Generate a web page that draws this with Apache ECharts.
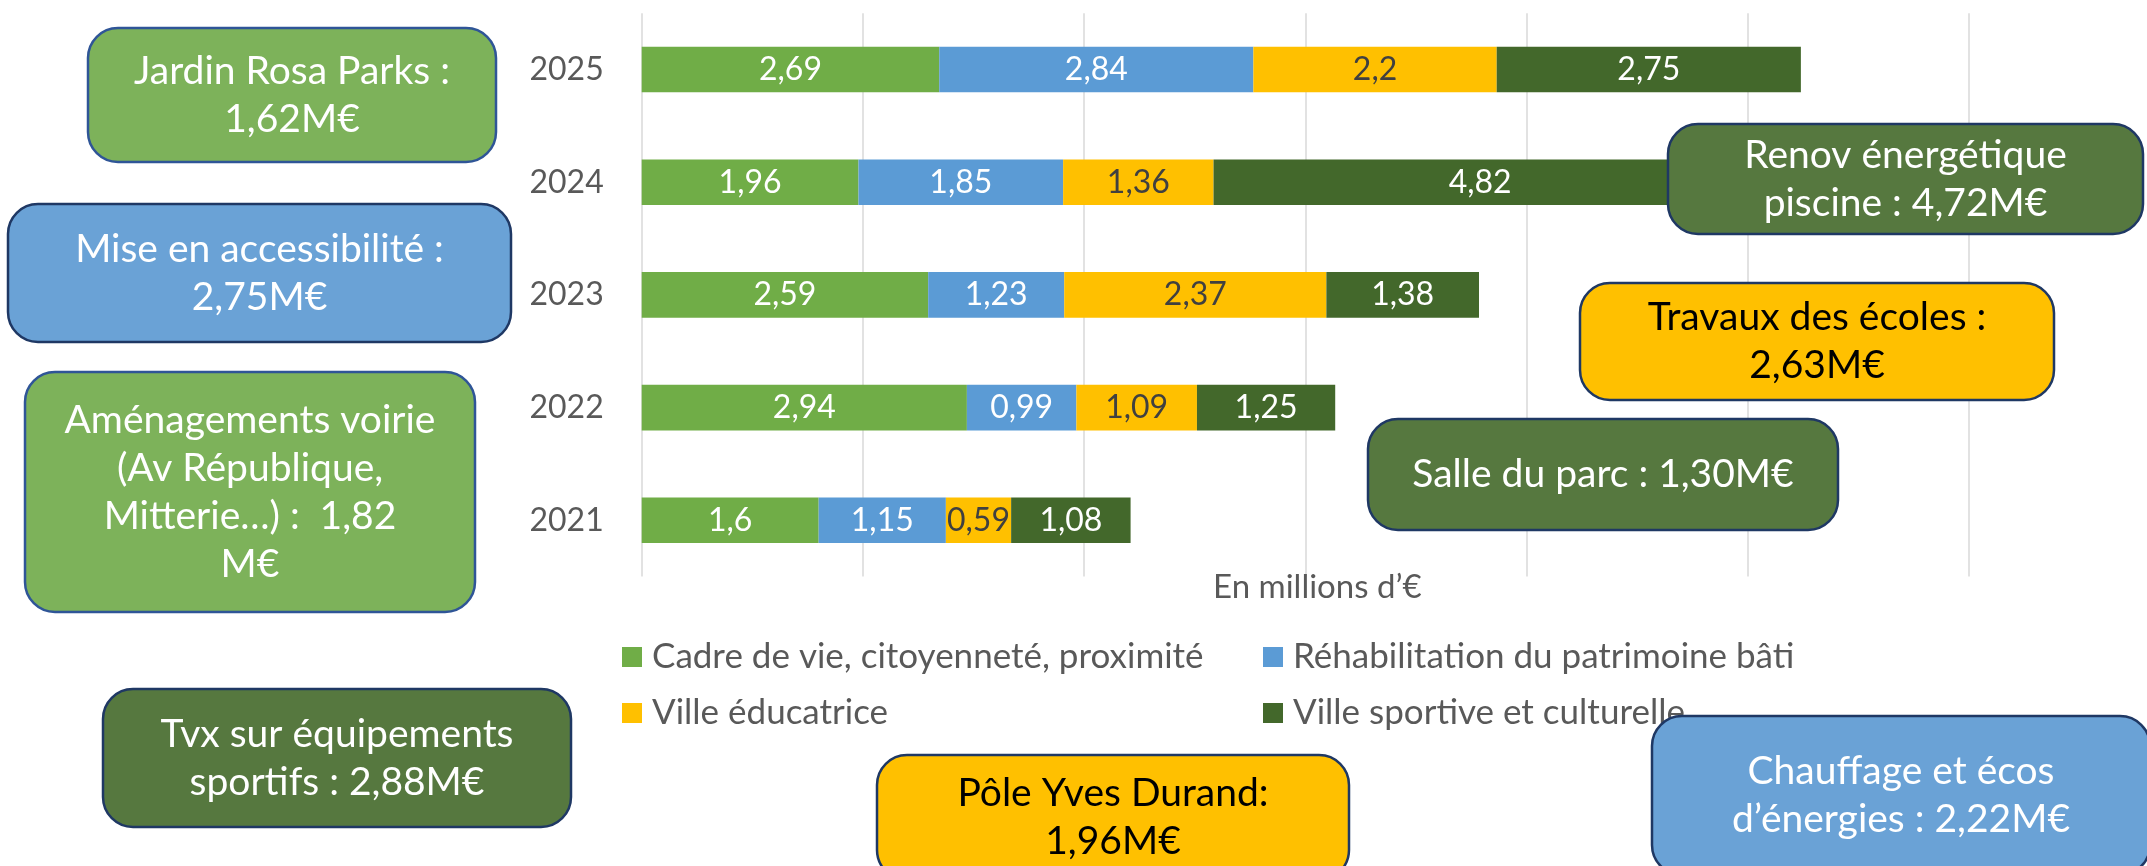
<!DOCTYPE html>
<html>
<head>
<meta charset="utf-8">
<script src="https://cdn.jsdelivr.net/npm/echarts@6/dist/echarts.min.js"></script>
<style>
  html, body { margin: 0; padding: 0; background: #fff; }
  #chart { width: 2147px; height: 866px; }
</style>
</head>
<body>
<div id="chart"></div>
<script>
// données (en millions d'€)
var years = ['2021', '2022', '2023', '2024', '2025']
var cadreVie = [1.6, 2.94, 2.59, 1.96, 2.69]
var rehabPatrimoine = [1.15, 0.99, 1.23, 1.85, 2.84]
var villeEducatrice = [0.59, 1.09, 2.37, 1.36, 2.2]
var villeSportive = [1.08, 1.25, 1.38, 4.82, 2.75]

var seriesNames = [
    'Cadre de vie, citoyenneté, proximité',
    'Réhabilitation du patrimoine bâti',
    'Ville éducatrice',
    'Ville sportive et culturelle'
]
var colors = ['#70AD47', '#5B9BD5', '#FFC000', '#43682B']

// encadrés projets
var boxes = [
    { x: 88, y: 28, w: 408, h: 134, fill: '#7DB25A', stroke: '#2F5597', color: '#fff', text: 'Jardin Rosa Parks :\n1,62M€' },
    { x: 8, y: 204, w: 503, h: 138, fill: '#6AA2D6', stroke: '#1F3864', color: '#fff', text: 'Mise en accessibilité :\n2,75M€' },
    { x: 25, y: 372, w: 450, h: 240, fill: '#7DB25A', stroke: '#2F5597', color: '#fff', text: 'Aménagements voirie\n(Av République,\nMitterie…) :  1,82\nM€' },
    { x: 103, y: 689, w: 468, h: 138, fill: '#56783F', stroke: '#1F3864', color: '#fff', text: 'Tvx sur équipements\nsportifs : 2,88M€' },
    { x: 877, y: 755, w: 472, h: 125, fill: '#FFC000', stroke: '#1F3864', color: '#000', text: 'Pôle Yves Durand:\n1,96M€' },
    { x: 1652, y: 716, w: 498, h: 159, fill: '#6AA2D6', stroke: '#1F3864', color: '#fff', text: 'Chauffage et écos\nd’énergies : 2,22M€' },
    { x: 1668, y: 124, w: 475, h: 110, fill: '#56783F', stroke: '#1F3864', color: '#fff', text: 'Renov énergétique\npiscine : 4,72M€' },
    { x: 1580, y: 283, w: 474, h: 117, fill: '#FFC000', stroke: '#1F3864', color: '#000', text: 'Travaux des écoles :\n2,63M€' },
    { x: 1368, y: 419, w: 470, h: 111, fill: '#56783F', stroke: '#1F3864', color: '#fff', text: 'Salle du parc : 1,30M€' }
]

var chart = echarts.init(document.getElementById('chart'))

function fmt(p) {
    return String(p.value).replace('.', ',')
}

var dataSets = [cadreVie, rehabPatrimoine, villeEducatrice, villeSportive]
var series = dataSets.map(function (d, i) {
    return {
        name: seriesNames[i],
        type: 'bar',
        stack: 'total',
        barWidth: '40.5%',
        data: d,
        itemStyle: { color: colors[i] },
        label: {
            show: true,
            position: 'inside',
            formatter: fmt,
            fontSize: 32,
            fontFamily: 'Lato',
            color: i === 2 ? '#404040' : '#fff'
        }
    }
})

// une légende par entrée pour caler les 2 colonnes
var legendPos = [[617, 632], [1258, 632], [617, 688], [1258, 688]]
var legends = seriesNames.map(function (n, i) {
    return {
        data: [n],
        left: legendPos[i][0],
        top: legendPos[i][1],
        icon: 'rect',
        itemWidth: 20,
        itemHeight: 20,
        selectedMode: false,
        textStyle: {
            fontFamily: 'Lato',
            fontSize: 35,
            color: '#595959',
            lineHeight: 40,
            padding: [0, 0, 0, 5]
        }
    }
})

// encadrés au premier plan (zlevel au-dessus des grilles et barres)
var graphics = boxes.map(function (b) {
    return {
        type: 'group',
        x: b.x,
        y: b.y,
        zlevel: 1,
        children: [
            {
                type: 'rect',
                zlevel: 1,
                z: 100,
                shape: { x: 0, y: 0, width: b.w, height: b.h, r: 30 },
                style: { fill: b.fill, stroke: b.stroke, lineWidth: 2.5 }
            },
            {
                type: 'text',
                zlevel: 1,
                z: 101,
                x: b.w / 2,
                y: b.h / 2,
                style: {
                    text: b.text,
                    fill: b.color,
                    font: '39px Lato',
                    lineHeight: 48,
                    align: 'center',
                    verticalAlign: 'middle'
                }
            }
        ]
    }
})

chart.setOption({
    animation: false,
    textStyle: { fontFamily: 'Lato' },
    grid: {
        left: 641.7,
        right: 178,
        top: 13.2,
        bottom: 289.4,
        outerBoundsMode: 'none'
    },
    legend: legends,
    xAxis: {
        type: 'value',
        min: 0,
        max: 12,
        interval: 2,
        name: 'En millions d’€',
        nameLocation: 'middle',
        nameGap: -6,
        nameTextStyle: {
            fontFamily: 'Lato',
            fontSize: 33,
            color: '#595959',
            verticalAlign: 'top',
            padding: [0, 0, 0, 24]
        },
        axisLine: { show: false },
        axisTick: { show: false },
        axisLabel: { show: false },
        splitLine: { lineStyle: { color: '#D9D9D9', width: 1.5 } }
    },
    yAxis: {
        type: 'category',
        data: years,
        axisLine: { show: false },
        axisTick: { show: false },
        axisLabel: {
            fontFamily: 'Lato',
            fontSize: 32,
            color: '#595959',
            margin: 38
        }
    },
    series: series,
    graphic: graphics
})
</script>
</body>
</html>
